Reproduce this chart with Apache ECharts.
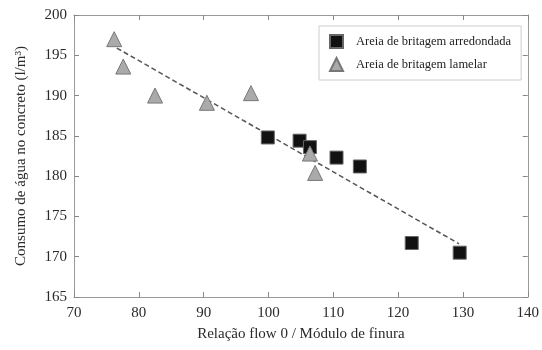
<!DOCTYPE html>
<html><head><meta charset="utf-8">
<script src="https://cdn.jsdelivr.net/npm/echarts@6/dist/echarts.min.js"></script>
<style>html,body{margin:0;padding:0;background:#fff}#c{width:542px;height:350px}</style>
</head><body><div id="c"></div>
<script>
const seriesNames = ['Areia de britagem arredondada', 'Areia de britagem lamelar'];
const arredondada = [[99.9,184.8],[104.8,184.4],[106.4,183.6],[110.5,182.3],[114.1,181.2],[122.1,171.7],[129.5,170.5]];
const lamelar = [[76.2,197.0],[77.6,193.6],[82.5,190.0],[90.5,189.1],[97.3,190.3],[106.4,182.8],[107.2,180.4]];
const trend = [[76.6,195.9],[129.4,171.6]];
const xTicks = [70,80,90,100,110,120,130,140];
const yTicks = [165,170,175,180,185,190,195,200];
const xTitle = 'Relação flow 0 / Módulo de finura';
const yTitle = 'Consumo de água no concreto (l/m³)';

const font = 'Liberation Serif, Times New Roman, serif';
const axisCommon = {
  axisLine:{show:true,lineStyle:{color:'#999',width:1}},
  axisTick:{show:true,inside:true,length:5,lineStyle:{color:'#888'}},
  splitLine:{show:false}
};
const chart = echarts.init(document.getElementById('c'));
chart.setOption({
  animation:false,
  backgroundColor:'#fff',
  grid:{left:74,right:11,top:15,bottom:53},
  legend:{
    orient:'vertical', left:319, top:26, width:208,
    padding:[8,10,8,10], itemGap:8, itemWidth:13, itemHeight:13,
    borderColor:'#ccc', borderWidth:1,
    textStyle:{fontFamily:font,fontSize:12.5,color:'#222',padding:[0,0,0,8]},
    data:seriesNames
  },
  xAxis:[
    Object.assign({type:'value',min:xTicks[0],max:xTicks[xTicks.length-1],interval:10,
      name:xTitle,nameLocation:'middle',nameGap:30,
      nameTextStyle:{fontFamily:font,fontSize:15,color:'#2a2a2a'},
      axisLabel:{fontFamily:font,fontSize:15,color:'#2a2a2a',margin:9}},axisCommon),
    Object.assign({type:'value',position:'top',min:70,max:140,interval:10,axisLabel:{show:false}},axisCommon)
  ],
  yAxis:[
    Object.assign({type:'value',min:yTicks[0],max:yTicks[yTicks.length-1],interval:5,
      name:yTitle,nameLocation:'middle',nameGap:45,
      nameTextStyle:{fontFamily:font,fontSize:15,color:'#2a2a2a'},
      axisLabel:{fontFamily:font,fontSize:15,color:'#2a2a2a',margin:7}},axisCommon),
    Object.assign({type:'value',position:'right',min:165,max:200,interval:5,axisLabel:{show:false}},axisCommon)
  ],
  series:[
    {type:'line',data:trend,symbol:'none',silent:true,z:1,
      lineStyle:{color:'#555',width:1.5,type:[5,3]}},
    {name:seriesNames[0],type:'scatter',data:arredondada,symbol:'rect',symbolSize:13,z:3,
      itemStyle:{color:'#111',borderColor:'#666',borderWidth:1,opacity:1}},
    {name:seriesNames[1],type:'scatter',data:lamelar,symbol:'triangle',symbolSize:15,z:4,
      itemStyle:{color:'#aaa',borderColor:'#777',borderWidth:1,opacity:1}}
  ]
});
</script></body></html>
